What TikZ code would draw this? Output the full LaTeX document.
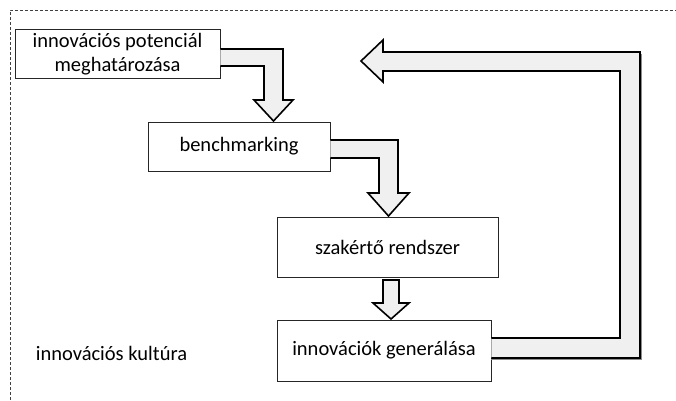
\documentclass[tikz,border=0pt]{standalone}
\usepackage{fontspec}
\setmainfont{Carlito}
\begin{document}
\begin{tikzpicture}[x=1pt,y=-1pt,
  box/.style={draw=black!85,line width=0.8pt,fill=white,inner sep=0pt,align=center,font=\fontsize{20.5}{24}\selectfont},
  blockarrow/.style={draw=black,line width=1.6pt,fill=black!6,line join=miter},
  blockshadow/.style={draw=black!45,line width=1.6pt,line join=miter},
  plain/.style={font=\fontsize{20.5}{24}\selectfont,inner sep=0pt}]
\useasboundingbox (0,0) rectangle (676,400);
% frame
\draw[black!75,line width=0.6pt,dash pattern=on 3pt off 2pt] (10,400) -- (10,10) -- (676,10);
% nodes
\node[box,minimum width=205,minimum height=49] (b1) at (117.5,54) {innovációs potenciál\\meghatározása};
\node[box,minimum width=182,minimum height=49] (b2) at (239,146.5) {benchmarking};
\node[box,minimum width=221,minimum height=60] (b3) at (387.5,247.5) {szakértő rendszer};
\node[box,minimum width=214,minimum height=61] (b4) at (384,350.5) {innovációk generálása};
\node[plain] (cult) at (111.5,353) {innovációs kultúra};
% arrow 1: b1 -> b2
\fill[black!6] (b1.east |- 0,49) -- (283,49) -- (283,100) -- (293,100) -- (273.5,121) -- (254,100) -- (264,100) -- (264,66) -- (b1.east |- 0,66) -- cycle;
\draw[blockarrow,fill=none] (b1.east |- 0,49) -- (283,49) -- (283,100) -- (293,100) -- (273.5,121) -- (254,100) -- (264,100) -- (264,66) -- (b1.east |- 0,66);
% arrow 2: b2 -> b3
\fill[black!6] (b2.east |- 0,140) -- (398,140) -- (398,193) -- (409,193) -- (388.5,216) -- (368,193) -- (379,193) -- (379,158) -- (b2.east |- 0,158) -- cycle;
\draw[blockarrow,fill=none] (b2.east |- 0,140) -- (398,140) -- (398,193) -- (409,193) -- (388.5,216) -- (368,193) -- (379,193) -- (379,158) -- (b2.east |- 0,158);
% arrow 3: b3 -> b4
\draw[blockarrow] (383,280) -- (399,280) -- (399,303) -- (409,303) -- (391,319) -- (373,303) -- (383,303) -- cycle;
% arrow 4: b4 -> b1 (feedback)
\draw[blockshadow] (641.5,53.5) -- (641.5,359.5) -- (b4.east |- 0,359.5);
\fill[black!6] (b4.east |- 0,338) -- (620,338) -- (620,71) -- (383,71) -- (383,82) -- (361,61) -- (383,40) -- (383,52) -- (640,52) -- (640,358) -- (b4.east |- 0,358) -- cycle;
\draw[blockarrow,fill=none] (b4.east |- 0,338) -- (620,338) -- (620,71) -- (383,71) -- (383,82) -- (361,61) -- (383,40) -- (383,52) -- (640,52) -- (640,358) -- (b4.east |- 0,358);
\end{tikzpicture}
\end{document}
